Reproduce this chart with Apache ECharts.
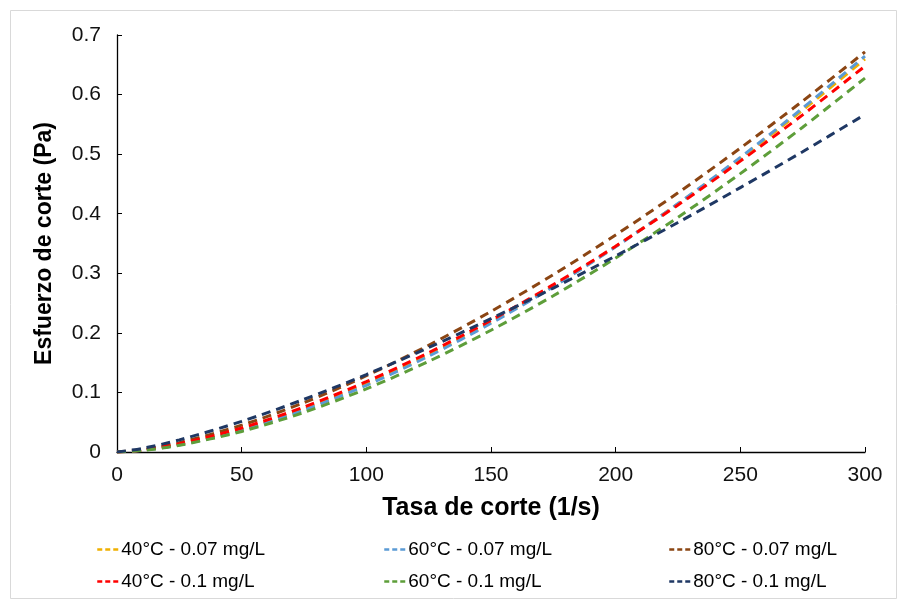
<!DOCTYPE html>
<html>
<head>
<meta charset="utf-8">
<script src="https://cdn.jsdelivr.net/npm/echarts@6/dist/echarts.min.js"></script>
<style>
html,body{margin:0;padding:0;background:#fff;}
#chart{width:905px;height:607px;}
</style>
</head>
<body>
<div id="chart"></div>
<script>
// Shear rate (1/s)
const shearRate = [0, 10, 25, 50, 75, 100, 125, 150, 175, 200, 225, 250, 275, 300];
// Shear stress (Pa) per series
const s40_007 = [0, 0.0029, 0.0124, 0.0377, 0.0720, 0.114, 0.1628, 0.2179, 0.2788, 0.3451, 0.4165, 0.4929, 0.5740, 0.6597];
const s60_007 = [0, 0.0027, 0.0118, 0.0364, 0.0703, 0.112, 0.1608, 0.2161, 0.2774, 0.3445, 0.4170, 0.4946, 0.5773, 0.6646];
const s80_007 = [0, 0.0040, 0.0158, 0.0450, 0.0829, 0.128, 0.1792, 0.2360, 0.2978, 0.3643, 0.4351, 0.5102, 0.5891, 0.6717];
const s40_01  = [0, 0.0033, 0.0138, 0.0403, 0.0755, 0.118, 0.1668, 0.2212, 0.2809, 0.3455, 0.4147, 0.4883, 0.5660, 0.6477];
const s60_01  = [0, 0.0025, 0.0112, 0.0345, 0.0665, 0.106, 0.1521, 0.2044, 0.2623, 0.3256, 0.3940, 0.4673, 0.5452, 0.6277];
const s80_01  = [0, 0.0059, 0.0203, 0.0514, 0.0884, 0.130, 0.1753, 0.2238, 0.2752, 0.3291, 0.3853, 0.4438, 0.5041, 0.5666];

const seriesNames = ['40°C - 0.07 mg/L', '60°C - 0.07 mg/L', '80°C - 0.07 mg/L',
                     '40°C - 0.1 mg/L', '60°C - 0.1 mg/L', '80°C - 0.1 mg/L'];
const seriesData = [s40_007, s60_007, s80_007, s40_01, s60_01, s80_01];
const colors = ['#F0B000', '#5B9BD5', '#8B4513', '#FF0000', '#5E9E3A', '#1F3864'];

const xTitle = 'Tasa de corte (1/s)';
const yTitle = 'Esfuerzo de corte (Pa)';

const font = 'Liberation Sans, Arial, sans-serif';

const chart = echarts.init(document.getElementById('chart'), null, {renderer: 'canvas'});

const series = seriesData.map((vals, i) => ({
  name: seriesNames[i],
  type: 'line',
  data: vals.map((v, j) => [shearRate[j], v]),
  smooth: 0.3,
  symbol: 'none',
  showSymbol: false,
  lineStyle: {color: colors[i], width: 3, type: [9, 6]},
  itemStyle: {color: colors[i]}
}));

function makeLegend(left, names) {
  return {
    orient: 'vertical',
    left: left,
    top: 535,
    itemWidth: 21,
    itemHeight: 12,
    itemGap: 13,
    selectedMode: false,
    textStyle: {fontFamily: font, fontSize: 19, color: '#000', padding: [0, 0, 0, -2]},
    lineStyle: {type: [5, 3], width: 2.5},
    itemStyle: {color: 'rgba(0,0,0,0)', borderWidth: 0, opacity: 0},
    data: names
  };
}

const option = {
  animation: false,
  backgroundColor: '#fff',
  color: colors,
  graphic: [{
    type: 'rect',
    shape: {x: 10.5, y: 10.5, width: 886, height: 588},
    style: {fill: 'none', stroke: '#D9D9D9', lineWidth: 1},
    silent: true
  }],
  grid: {left: 117, right: 40, top: 35, bottom: 155, containLabel: false},
  legend: [
    makeLegend(91, [seriesNames[0], seriesNames[3]]),
    makeLegend(378, [seriesNames[1], seriesNames[4]]),
    makeLegend(663, [seriesNames[2], seriesNames[5]])
  ],
  xAxis: {
    type: 'value',
    min: 0, max: 300, interval: 50,
    name: xTitle,
    nameLocation: 'middle',
    nameGap: 44,
    nameTextStyle: {fontFamily: font, fontSize: 25, fontWeight: 'bold', color: '#000'},
    axisLine: {show: true, lineStyle: {color: '#000', width: 1.3}},
    axisTick: {show: true, inside: true, length: 5, lineStyle: {color: '#000'}},
    axisLabel: {fontFamily: font, fontSize: 21, color: '#111', margin: 13},
    splitLine: {show: false}
  },
  yAxis: {
    type: 'value',
    min: 0, max: 0.7, interval: 0.1,
    name: yTitle,
    nameLocation: 'middle',
    nameGap: 61,
    nameTextStyle: {fontFamily: font, fontSize: 23, fontWeight: 'bold', color: '#000'},
    axisLine: {show: true, lineStyle: {color: '#000', width: 1.3}},
    axisTick: {show: true, inside: true, length: 5, lineStyle: {color: '#000'}},
    axisLabel: {fontFamily: font, fontSize: 21, color: '#111', margin: 16,
      formatter: v => (Math.round(v * 10) / 10).toString()},
    splitLine: {show: false}
  },
  series: series
};
chart.setOption(option);
</script>
</body>
</html>
